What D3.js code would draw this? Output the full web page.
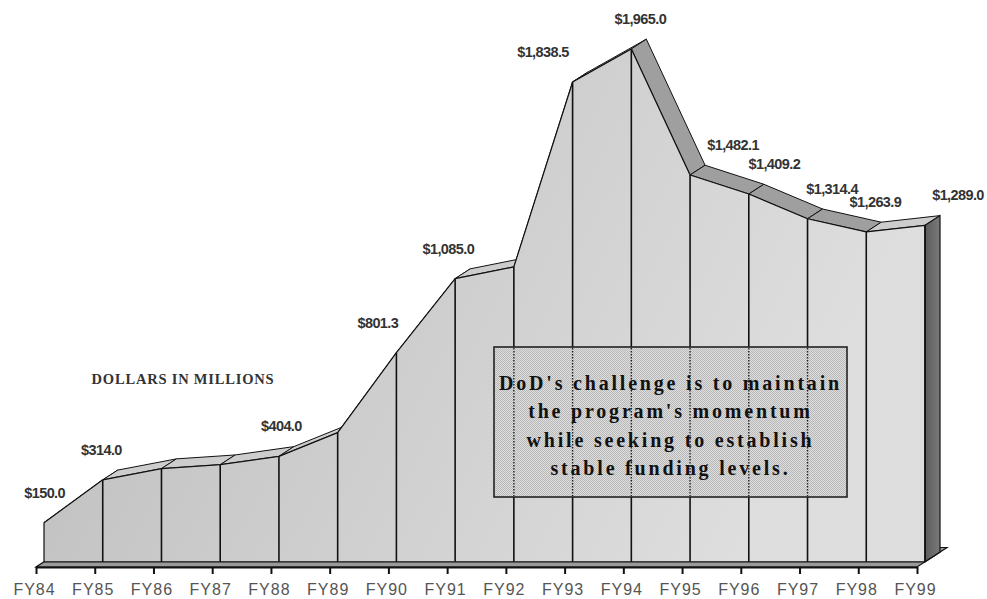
<!DOCTYPE html>
<html>
<head>
<meta charset="utf-8">
<script src="https://cdn.jsdelivr.net/npm/d3@7/dist/d3.min.js"></script>
<style>
  html, body { margin: 0; padding: 0; background: #ffffff; }
  svg { display: block; }
</style>
</head>
<body>
<svg id="chart" width="987" height="599"></svg>
<script>
// Funding by fiscal year, dollars in millions
const categories = ["FY84", "FY85", "FY86", "FY87", "FY88", "FY89", "FY90", "FY91",
                    "FY92", "FY93", "FY94", "FY95", "FY96", "FY97", "FY98", "FY99"];
const values = [150.0, 314.0, 357, 372, 404.0, 495, 801.3, 1085.0,
                1130, 1838.5, 1965.0, 1482.1, 1409.2, 1314.4, 1263.9, 1289.0];
// years that carry a value label
const labelled = [true, true, false, false, true, false, true, true,
                  false, true, true, true, true, true, true, true];
const unitsTitle = "DOLLARS IN MILLIONS";
const noteLines = [
  "DoD's challenge is to maintain",
  "the program's momentum",
  "while seeking to establish",
  "stable funding levels."
];

const svg = d3.select("#chart");
const defs = svg.append("defs");

const x = d3.scalePoint().domain(categories).range([36, 917]);
const y = d3.scaleLinear().domain([0, 2000]).range([567, 45]);

// oblique depth direction for the 3-D look
const DX = 1, DY = -0.65;
const FRONT = 8, BACK = 23, FLOOR = 30;
const P = (c, v, depth) => [x(c) + depth * DX, y(v) + depth * DY];
const fmt = d3.format("$,.1f");
const data = categories.map((c, i) => ({ c, v: values[i], i }));
const first = categories[0], last = categories[categories.length - 1];

// gradients and textures
const g1 = defs.append("linearGradient").attr("id", "frontFill")
  .attr("x1", 0).attr("y1", 0).attr("x2", 1).attr("y2", 0.3);
g1.append("stop").attr("offset", 0).attr("stop-color", "#bababa");
g1.append("stop").attr("offset", 0.45).attr("stop-color", "#cbcbcb");
g1.append("stop").attr("offset", 1).attr("stop-color", "#dedede");

const g2 = defs.append("linearGradient").attr("id", "sideFill")
  .attr("x1", 0).attr("y1", 0).attr("x2", 1).attr("y2", 0);
g2.append("stop").attr("offset", 0).attr("stop-color", "#5c5c5c");
g2.append("stop").attr("offset", 1).attr("stop-color", "#7a7a7a");

const pat = defs.append("pattern").attr("id", "boxDots")
  .attr("width", 2).attr("height", 2).attr("patternUnits", "userSpaceOnUse");
pat.append("rect").attr("width", 2).attr("height", 2).attr("fill", "#dedede");
pat.append("rect").attr("width", 1).attr("height", 1).attr("fill", "#b8b8b8");
pat.append("rect").attr("x", 1).attr("y", 1).attr("width", 1).attr("height", 1).attr("fill", "#b8b8b8");

// floor slab
const floorPts = [P(first, 0, 0), P(last, 0, 0), P(last, 0, FLOOR), P(first, 0, FLOOR)];
svg.append("polygon")
  .attr("points", floorPts.map(p => p.join(",")).join(" "))
  .attr("fill", "#9a9a9a").attr("stroke", "#111").attr("stroke-width", 1.2);

// top surface strips between the front and back ridges
const strips = svg.append("g");
for (let i = 0; i < data.length - 1; i++) {
  const a = data[i], b = data[i + 1];
  const pts = [P(a.c, a.v, FRONT), P(b.c, b.v, FRONT), P(b.c, b.v, BACK), P(a.c, a.v, BACK)];
  strips.append("polygon")
    .attr("points", pts.map(p => p.join(",")).join(" "))
    .attr("fill", b.v < a.v ? "#9f9f9f" : "#cdcdcd")
    .attr("stroke", "#111").attr("stroke-width", 1).attr("stroke-linejoin", "round");
}

// right end face
const endV = values[values.length - 1];
const sidePts = [P(last, 0, FRONT), P(last, endV, FRONT), P(last, endV, BACK), P(last, 0, BACK)];
svg.append("polygon")
  .attr("points", sidePts.map(p => p.join(",")).join(" "))
  .attr("fill", "url(#sideFill)").attr("stroke", "#111").attr("stroke-width", 1.2);

// front face of the area
const area = d3.area()
  .x(d => x(d.c) + FRONT * DX)
  .y0(y(0) + FRONT * DY)
  .y1(d => y(d.v) + FRONT * DY);
svg.append("path").datum(data)
  .attr("d", area)
  .attr("fill", "url(#frontFill)")
  .attr("stroke", "#111").attr("stroke-width", 1.2).attr("stroke-linejoin", "round");

// year dividers on the front face
svg.append("g").selectAll("line").data(data.slice(1)).join("line")
  .attr("x1", d => x(d.c) + FRONT * DX).attr("x2", d => x(d.c) + FRONT * DX)
  .attr("y1", y(0) + FRONT * DY).attr("y2", d => y(d.v) + FRONT * DY)
  .attr("stroke", "#111").attr("stroke-width", 1.6);

// category axis along the front edge of the floor
const axis = svg.append("g").attr("transform", `translate(0,${y(0)})`)
  .call(d3.axisBottom(x).tickSize(7).tickSizeOuter(0).tickPadding(10));
axis.select(".domain").attr("stroke", "#111").attr("stroke-width", 2);
axis.selectAll(".tick line").attr("stroke", "#111").attr("stroke-width", 2);
axis.selectAll(".tick text")
  .attr("x", -2)
  .attr("fill", "#555")
  .style("font-family", "'Liberation Sans', Arial, sans-serif")
  .style("font-size", "16px")
  .style("letter-spacing", "1px");

// value labels above the ridge
function labelDx(i) {
  const n = values.length;
  if (i === n - 1) return 33;
  const v = values[i];
  const prev = values[Math.max(i - 1, 0)], next = values[i + 1];
  if (v >= prev && v >= next && i > 0) return 9;
  const d = Math.max(-38, Math.min(35, 0.045 * (prev - next)));
  return 8 + d + (next < v ? 10 : 0);
}
svg.append("g").selectAll("text").data(data.filter(d => labelled[d.i])).join("text")
  .attr("x", d => x(d.c) + FRONT * DX + labelDx(d.i))
  .attr("y", d => y(d.v) + FRONT * DY - 25)
  .attr("text-anchor", "middle")
  .attr("fill", "#333")
  .style("font-family", "'Liberation Sans', Arial, sans-serif")
  .style("font-weight", "bold")
  .style("font-size", "14.5px")
  .style("letter-spacing", "-0.6px")
  .text(d => fmt(d.v));

// units caption
svg.append("text")
  .attr("x", 183).attr("y", 384)
  .attr("text-anchor", "middle")
  .attr("fill", "#333")
  .style("font-family", "'Liberation Serif', 'Times New Roman', serif")
  .style("font-weight", "bold")
  .style("font-size", "14.5px")
  .style("letter-spacing", "0.8px")
  .text(unitsTitle);

// call-out box
const box = { x: 494, y: 347, w: 353, h: 150 };
svg.append("rect")
  .attr("x", box.x).attr("y", box.y).attr("width", box.w).attr("height", box.h)
  .attr("fill", "url(#boxDots)").attr("stroke", "#222").attr("stroke-width", 1.6);
svg.append("g").selectAll("line")
  .data(data.filter(d => x(d.c) + FRONT * DX > box.x && x(d.c) + FRONT * DX < box.x + box.w))
  .join("line")
  .attr("x1", d => x(d.c) + FRONT * DX).attr("x2", d => x(d.c) + FRONT * DX)
  .attr("y1", box.y + 1).attr("y2", box.y + box.h - 1)
  .attr("stroke", "#222").attr("stroke-width", 1.4).attr("stroke-dasharray", "1.5,1.5");
svg.append("g").selectAll("text").data(noteLines).join("text")
  .attr("x", box.x + box.w / 2)
  .attr("y", (d, i) => 390 + i * 28.3)
  .attr("text-anchor", "middle")
  .attr("fill", "#111")
  .style("font-family", "'Liberation Serif', 'Times New Roman', serif")
  .style("font-weight", "bold")
  .style("font-size", "20px")
  .style("letter-spacing", "2.8px")
  .text(d => d);
</script>
</body>
</html>
